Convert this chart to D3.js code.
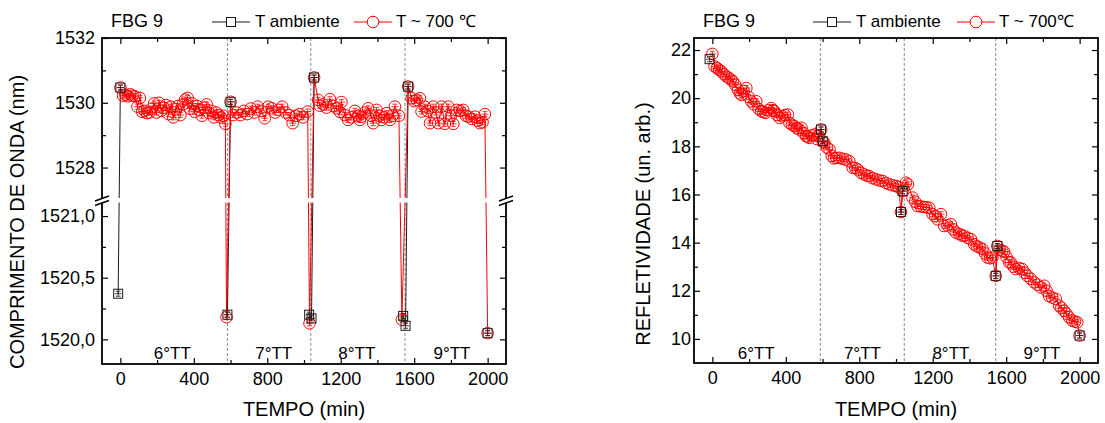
<!DOCTYPE html>
<html><head><meta charset="utf-8">
<script src="https://cdn.jsdelivr.net/npm/d3@7"></script>
<style>
body{margin:0;background:#fff}
svg{display:block}
text{font-family:"Liberation Sans",Arial,Helvetica,sans-serif;fill:#000}
</style>
</head><body>
<svg id="c" width="1105" height="423"></svg>
<script>
// ---------------- DATA ----------------
const timeMajor = [0,400,800,1200,1600,2000];
const timeMinor = [200,600,1000,1400,1800];
const treatLabels = ["6°TT","7°TT","8°TT","9°TT"];
const treatLabelTimeLeft = [283, 835, 1288, 1806];
const treatLabelTimeRight = [239, 817, 1299, 1795];
const treatBoundsLeft = [583, 1037, 1550];
const treatBoundsRight = [588, 1045, 1543];

// Left chart: wavelength (nm)
const wlUpperMajor = [1528,1530,1532];
const wlUpperMinor = [1529,1531];
const wlLowerMajor = [1520.0,1520.5,1521.0];
const wlLowerMinor = [1520.25,1520.75];

const redLeftT = [0,15,28,41,54,67,80,93,106,119,132,145,158,171,184,197,210,223,236,249,262,275,288,301,314,327,340,353,366,379,392,405,418,431,444,457,470,483,496,509,522,535,548,561,572,
  578,600,
  615,634,653,672,691,710,729,748,767,786,805,824,843,862,881,900,919,938,957,976,995,1020,
  1030,1055,
  1077,1086,1104,1122,1141,1160,1177,1195,1204,1222,1240,1258,1277,1295,1304,1313,1331,1349,1365,1377,1395,1410,1422,1436,1450,1468,1482,1495,1517,
  1533,1567,
  1586,1600,1613,1631,1640,1658,1672,1686,1704,1718,1731,1749,1767,1786,1800,1813,1831,1849,1867,1881,1895,1913,1931,1945,1958,1972,1985,
  2000];
const redLeftV = [1530.47,1530.22,1530.25,1530.2,1530.26,1530.22,1530.2,1529.88,1530.15,1529.72,1529.75,1529.68,1529.7,1529.82,1529.98,1529.7,1530.0,1529.75,1529.85,1529.93,1529.65,1529.88,1529.55,1529.8,1529.9,1529.62,1529.95,1530.1,1530.15,1529.82,1529.98,1529.72,1529.9,1529.78,1529.6,1529.85,1529.95,1529.68,1529.75,1529.55,1529.7,1529.62,1529.55,1529.6,1529.35,
  1520.18,1530.03,
  1529.62,1529.7,1529.62,1529.75,1529.65,1529.82,1529.7,1529.88,1529.75,1529.52,1529.88,1529.83,1529.7,1529.78,1529.88,1529.7,1529.62,1529.37,1529.6,1529.65,1529.55,1529.73,
  1520.13,1530.78,
  1530.09,1529.91,1529.95,1529.85,1530.11,1529.9,1529.83,1529.72,1530.02,1529.62,1529.47,1529.55,1529.75,1529.6,1529.47,1529.57,1529.7,1529.83,1529.6,1529.37,1529.78,1529.6,1529.47,1529.55,1529.68,1529.47,1529.6,1529.88,1529.6,
  1520.16,1530.5,
  1530.14,1530.05,1530.09,1530.14,1529.73,1529.88,1529.75,1529.37,1529.88,1529.7,1529.37,1529.88,1529.35,1529.88,1529.6,1529.35,1529.78,1529.75,1529.78,1529.6,1529.57,1529.5,1529.57,1529.45,1529.37,1529.4,1529.65,
  1520.05];

const blackLeftT = [-12,0,null,583,600,null,1028,1041,1055,null,1540,1553,1567,null,2000];
const blackLeftV = [1520.37,1530.47,null,1520.2,1530.03,null,1520.2,1520.17,1530.78,null,1520.19,1520.11,1530.5,null,1520.05];

// Right chart: reflectivity (a.u.)
const reflMajor = [10,12,14,16,18,20,22];
const reflMinor = [11,13,15,17,19,21];

const redRightT = [0,12,25,37,49,62,76,88,100,112,125,139,150,158,170,185,197,212,225,239,252,266,278,290,305,321,330,338,352,366,380,395,411,420,433,447,460,474,485,497,511,520,529,542,556,570,580,
  592,601,610,624,638,650,662,675,692,710,728,746,764,778,791,810,828,842,855,872,891,910,927,945,964,982,1000,1015,
  1027,1036,1054,1065,1090,1104,1117,1135,1150,1165,1181,1199,1213,1226,1245,1262,1280,1299,1312,1326,1345,1358,1371,1390,1408,1426,1440,1455,1471,1485,1498,1512,1525,
  1543,1552,1565,1579,1589,1602,1616,1625,1640,1652,1670,1688,1700,1715,1733,1752,1770,1788,1807,1820,1833,1850,1870,1888,1900,1915,1928,1942,1960,1975,1987,2000];
const redRightV = [21.84,21.32,21.25,21.18,21.11,21.0,20.9,20.85,20.78,20.7,20.55,20.35,20.2,20.14,20.3,20.42,20.05,19.87,19.75,19.87,19.55,19.46,19.42,19.39,19.5,19.59,19.5,19.46,19.3,19.18,19.25,19.3,19.32,18.97,18.9,18.84,18.75,18.7,18.77,18.55,18.42,18.4,18.35,18.45,18.49,18.3,18.42,
  18.7,18.21,18.14,17.95,17.87,17.6,17.5,17.52,17.52,17.48,17.45,17.38,17.11,17.1,17.04,16.9,16.83,16.78,16.76,16.68,16.63,16.58,16.56,16.48,16.42,16.38,16.35,16.3,
  15.27,16.14,16.49,16.42,15.87,15.7,15.52,15.5,15.48,15.47,15.45,15.18,15.1,14.97,15.18,14.69,14.72,14.76,14.55,14.42,14.36,14.3,14.28,14.2,14.14,13.93,13.85,13.8,13.73,13.55,13.38,13.35,13.38,
  12.62,13.86,13.7,13.66,13.62,13.4,13.18,13.18,13.0,12.9,12.95,12.9,12.75,12.62,12.5,12.35,12.25,12.14,12.21,12.0,11.79,11.72,11.66,11.38,11.3,11.17,11.05,10.9,10.76,10.72,10.69,10.14];

const blackRightT = [-15,null,592,601,null,1027,1036,null,1543,1552,null,2000];
const blackRightV = [21.62,null,18.7,18.21,null,15.27,16.14,null,12.62,13.86,null,10.14];

// ---------------- DRAW ----------------
const svg = d3.select("#c");
const RED = "#ff0000", BLK = "#1a1a1a", GRID = "#8c8c8c";
const FS_TICK = 18, FS_TXT = 17, FS_TITLE = 20;
const CR = 5.8;

function zip(T, V){ return T.map((t,i)=>({t:t, v:V[i]})); }

function errMark(g, x, y, col){
  g.append("path")
   .attr("d", `M${x-2.5},${y-2.5}h5M${x-2.5},${y+2.5}h5M${x},${y-2.5}v5M${x-3.5},${y}h7`)
   .attr("stroke", col).attr("stroke-width", 0.8).attr("fill","none");
}

function drawSeries(g, x, y, redData, blackData){
  const line = d3.line().defined(d => d.t !== null && d.v !== null).x(d => x(d.t)).y(d => y(d.v));
  g.append("path").attr("d", line(blackData)).attr("fill","none").attr("stroke",BLK).attr("stroke-width",1);
  g.append("path").attr("d", line(redData)).attr("fill","none").attr("stroke",RED).attr("stroke-width",1);
  redData.forEach(d => {
    const cx = x(d.t), cy = y(d.v);
    g.append("circle").attr("cx",cx).attr("cy",cy).attr("r",CR).attr("fill","none").attr("stroke",RED).attr("stroke-width",1);
    errMark(g, cx, cy, RED);
  });
  blackData.filter(d => d.t !== null).forEach(d => {
    const cx = x(d.t), cy = y(d.v);
    g.append("rect").attr("x",cx-4.5).attr("y",cy-4.5).attr("width",9).attr("height",9).attr("fill","none").attr("stroke",BLK).attr("stroke-width",1);
    errMark(g, cx, cy, BLK);
  });
}

function tickAxis(g, axis, tx, ty){
  const a = g.append("g").attr("transform",`translate(${tx},${ty})`).call(axis);
  a.select(".domain").remove();
  a.selectAll("line").attr("stroke","#000").attr("stroke-width",1.2);
  a.selectAll("text").attr("font-size",FS_TICK).attr("font-family","Liberation Sans, Arial, sans-serif").attr("fill","#000");
  return a;
}

function commonX(g, x, top, bottom){
  tickAxis(g, d3.axisBottom(x).tickValues(timeMajor).tickSize(-6).tickPadding(8).tickFormat(d3.format("d")), 0, bottom);
  tickAxis(g, d3.axisBottom(x).tickValues(timeMinor).tickSize(-4).tickFormat(""), 0, bottom);
  tickAxis(g, d3.axisTop(x).tickValues(timeMajor).tickSize(-6).tickFormat(""), 0, top);
  tickAxis(g, d3.axisTop(x).tickValues(timeMinor).tickSize(-4).tickFormat(""), 0, top);
}

function legendRow(g, bx, rx, yy, labelRed){
  g.append("line").attr("x1",bx).attr("x2",bx+38).attr("y1",yy).attr("y2",yy).attr("stroke",BLK).attr("stroke-width",1);
  g.append("rect").attr("x",bx+19-4.5).attr("y",yy-4.5).attr("width",9).attr("height",9).attr("fill","#fff").attr("stroke",BLK);
  g.append("text").attr("x",bx+43).attr("y",yy+5).attr("font-size",FS_TXT).text("T ambiente");
  g.append("line").attr("x1",rx).attr("x2",rx+38).attr("y1",yy).attr("y2",yy).attr("stroke",RED).attr("stroke-width",1);
  g.append("circle").attr("cx",rx+19).attr("cy",yy).attr("r",5.8).attr("fill","#fff").attr("stroke",RED);
  g.append("text").attr("x",rx+42).attr("y",yy+5).attr("font-size",FS_TXT).text(labelRed);
}

// ===== LEFT CHART =====
(function(){
  const L=102, R=506, T=38, B=364;
  const g = svg.append("g");
  const x = d3.scaleLinear().domain([-100,2100]).range([L,R]);
  const yU = d3.scaleLinear().domain([1527.06,1532]).range([198,T]);
  const yLo = d3.scaleLinear().domain([1519.8,1521.114]).range([B,202]);
  const y = v => v >= 1524 ? yU(v) : yLo(v);

  treatBoundsLeft.forEach(t => {
    g.append("line").attr("x1",x(t)).attr("x2",x(t)).attr("y1",T).attr("y2",B)
     .attr("stroke",GRID).attr("stroke-width",1).attr("stroke-dasharray","3,2");
  });
  treatLabels.forEach((s,i)=>{
    g.append("text").attr("x",x(treatLabelTimeLeft[i])).attr("y",359).attr("text-anchor","middle").attr("font-size",FS_TXT).text(s);
  });

  drawSeries(g, x, y, zip(redLeftT, redLeftV), zip(blackLeftT, blackLeftV));

  g.append("rect").attr("x",L).attr("y",T).attr("width",R-L).attr("height",B-T).attr("fill","none").attr("stroke","#000").attr("stroke-width",1.8);

  commonX(g, x, T, B);
  const fmtLo = d => d3.format(".1f")(d).replace(".",",");
  tickAxis(g, d3.axisLeft(yU).tickValues(wlUpperMajor).tickSize(-6).tickPadding(7).tickFormat(d3.format("d")), L, 0);
  tickAxis(g, d3.axisLeft(yU).tickValues(wlUpperMinor).tickSize(-4).tickFormat(""), L, 0);
  tickAxis(g, d3.axisLeft(yLo).tickValues(wlLowerMajor).tickSize(-6).tickPadding(7).tickFormat(fmtLo), L, 0);
  tickAxis(g, d3.axisLeft(yLo).tickValues(wlLowerMinor).tickSize(-4).tickFormat(""), L, 0);
  tickAxis(g, d3.axisRight(yU).tickValues(wlUpperMajor).tickSize(-6).tickFormat(""), R, 0);
  tickAxis(g, d3.axisRight(yU).tickValues(wlUpperMinor).tickSize(-4).tickFormat(""), R, 0);
  tickAxis(g, d3.axisRight(yLo).tickValues(wlLowerMajor).tickSize(-6).tickFormat(""), R, 0);
  tickAxis(g, d3.axisRight(yLo).tickValues(wlLowerMinor).tickSize(-4).tickFormat(""), R, 0);

  g.append("rect").attr("x",L-2).attr("y",198).attr("width",R-L+4).attr("height",4.5).attr("fill","#fff");
  [L, R].forEach(ax => {
    g.append("path").attr("d",`M${ax-7},${201}L${ax+7},${196}M${ax-7},${205.5}L${ax+7},${200.5}`)
      .attr("stroke","#000").attr("stroke-width",1.4).attr("fill","none");
  });

  g.append("text").attr("x",(L+R)/2).attr("y",416).attr("text-anchor","middle").attr("font-size",FS_TITLE).text("TEMPO (min)");
  g.append("text").attr("transform",`translate(24,222) rotate(-90)`).attr("text-anchor","middle").attr("font-size",FS_TITLE).text("COMPRIMENTO DE ONDA (nm)");
  g.append("text").attr("x",111).attr("y",27).attr("font-size",FS_TXT+1).text("FBG 9");
  legendRow(g, 212, 354, 22, "T ~ 700 ℃");
})();

// ===== RIGHT CHART =====
(function(){
  const L=694, R=1098, T=38, B=363;
  const g = svg.append("g");
  const x = d3.scaleLinear().domain([-100,2100]).range([L,R]);
  const y = d3.scaleLinear().domain([9,22.5]).range([B,T]);

  treatBoundsRight.forEach(t => {
    g.append("line").attr("x1",x(t)).attr("x2",x(t)).attr("y1",T).attr("y2",B)
     .attr("stroke",GRID).attr("stroke-width",1).attr("stroke-dasharray","3,2");
  });
  treatLabels.forEach((s,i)=>{
    g.append("text").attr("x",x(treatLabelTimeRight[i])).attr("y",359).attr("text-anchor","middle").attr("font-size",FS_TXT).text(s);
  });

  drawSeries(g, x, y, zip(redRightT, redRightV), zip(blackRightT, blackRightV));

  g.append("rect").attr("x",L).attr("y",T).attr("width",R-L).attr("height",B-T).attr("fill","none").attr("stroke","#000").attr("stroke-width",1.8);

  commonX(g, x, T, B);
  tickAxis(g, d3.axisLeft(y).tickValues(reflMajor).tickSize(-6).tickPadding(3).tickFormat(d3.format("d")), L, 0);
  tickAxis(g, d3.axisLeft(y).tickValues(reflMinor).tickSize(-4).tickFormat(""), L, 0);
  tickAxis(g, d3.axisRight(y).tickValues(reflMajor).tickSize(-6).tickFormat(""), R, 0);
  tickAxis(g, d3.axisRight(y).tickValues(reflMinor).tickSize(-4).tickFormat(""), R, 0);

  g.append("text").attr("x",(L+R)/2).attr("y",416).attr("text-anchor","middle").attr("font-size",FS_TITLE).text("TEMPO (min)");
  g.append("text").attr("transform",`translate(650,224) rotate(-90)`).attr("text-anchor","middle").attr("font-size",FS_TITLE).text("REFLETIVIDADE (un. arb.)");
  g.append("text").attr("x",703).attr("y",27).attr("font-size",FS_TXT+1).text("FBG 9");
  legendRow(g, 813, 957, 22, "T ~ 700℃");
})();
</script>
</body></html>
